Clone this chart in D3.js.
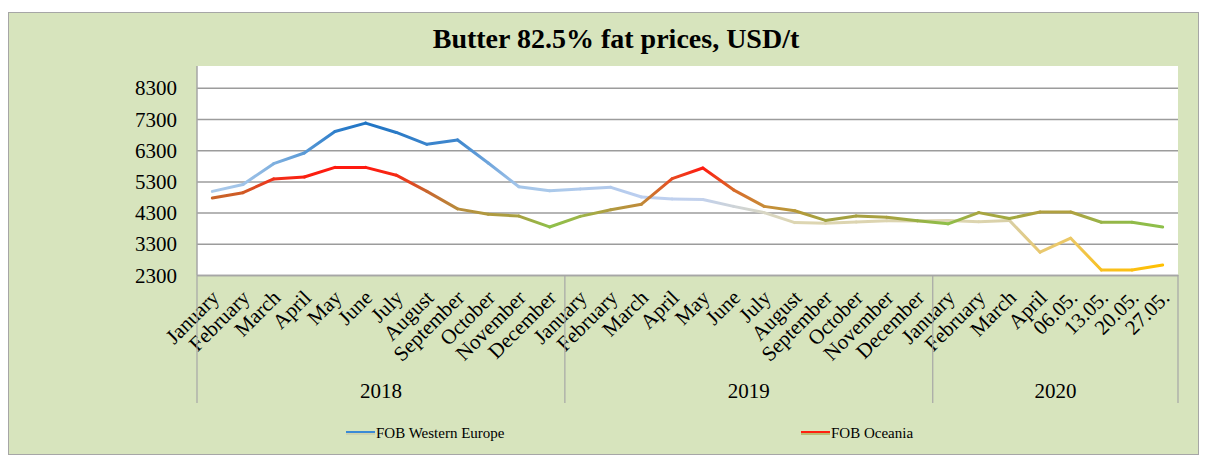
<!DOCTYPE html>
<html>
<head>
<meta charset="utf-8">
<script src="https://cdn.jsdelivr.net/npm/d3@7"></script>
<style>
  body { margin: 0; background: #fff; }
  svg text { font-family: "Liberation Serif", "Times New Roman", serif; fill: #000; }
</style>
</head>
<body>
<div id="chart"></div>
<script>
// chart values
var months = ["January", "February", "March", "April", "May", "June", "July", "August",
              "September", "October", "November", "December"];
var categories = months.concat(months, ["January", "February", "March", "April", "06.05.", "13.05.", "20.05.", "27.05."]);
var years = ["2018", "2019", "2020"];
var yearSizes = [12, 12, 8];
var yTicks = [2300, 3300, 4300, 5300, 6300, 7300, 8300];

var westernEurope = [4980, 5200, 5870, 6210, 6900, 7170, 6870, 6490, 6630, 5890, 5130, 5000,
                     5060, 5110, 4800, 4740, 4720, 4500, 4300, 3980, 3960, 4000, 4040, 4030,
                     4050, 4010, 4050, 3030, 3480, 2460, 2460, 2620];
var oceania = [4770, 4940, 5380, 5440, 5750, 5750, 5500, 4980, 4420, 4250, 4190, 3840,
               4180, 4390, 4570, 5390, 5730, 5030, 4500, 4360, 4050, 4190, 4150, 4040,
               3940, 4300, 4110, 4320, 4320, 3990, 3990, 3840];

// colour of the line at each point (the source chart shades the lines)
var weColors = ["#aac9ea", "#a0c3e8", "#7fb0df", "#5a9ad6", "#2f7fcb", "#1f74c4", "#2a7ac6", "#3a84cc",
                "#3d86cd", "#6fa5dc", "#a5c6ea", "#aac9ea",
                "#b0caec", "#b2caec", "#bccff0", "#bfd0ee", "#c2d1ec", "#cdd3d8", "#d8d6c4", "#ddd6b2",
                "#ddd5b0", "#dcd4b0", "#dcd4b0", "#dcd4b0",
                "#dcd4b0", "#dcd4ae", "#d8cfa6", "#e8c870", "#ebc866", "#f8c020", "#fbbf14", "#ffc000"];
var ocColors = ["#c8642a", "#d05a24", "#f0301a", "#fa2010", "#ff1a10", "#ff1a10", "#f52a14", "#c8662e",
                "#b88c3c", "#b09a40", "#a8a040", "#8ec04a",
                "#9cb548", "#b09a40", "#c08a38", "#e84a20", "#ff1a10", "#d86a28", "#c88c38", "#b89838",
                "#a0a240", "#a6a040", "#a8a040", "#98b044",
                "#8ec04a", "#a8a440", "#a0aa40", "#b0a040", "#b0a040", "#98b448", "#90ba48", "#8ec04a"];

var width = 1206, height = 455;
var plot = {left: 197, right: 1178, top: 66, bottom: 275};
var serif = "'Liberation Serif', 'Times New Roman', serif";

var svg = d3.select("#chart").append("svg")
  .attr("width", width)
  .attr("height", height);

// chart area
svg.append("rect")
  .attr("x", 8.5).attr("y", 12.5)
  .attr("width", 1190).attr("height", 442)
  .attr("fill", "#d7e4bd")
  .attr("stroke", "#a6a6a6");

svg.append("text")
  .attr("x", 616).attr("y", 48)
  .attr("text-anchor", "middle")
  .style("font-size", "28px")
  .style("font-weight", "bold")
  .text("Butter 82.5% fat prices, USD/t");

svg.append("rect")
  .attr("x", plot.left).attr("y", plot.top)
  .attr("width", plot.right - plot.left).attr("height", plot.bottom - plot.top)
  .attr("fill", "#fff");

var x = d3.scaleBand()
  .domain(d3.range(categories.length))
  .range([plot.left, plot.right])
  .padding(0);

var y = d3.scaleLinear()
  .domain([2300, 9000])
  .range([plot.bottom, plot.top]);

// y axis + gridlines
var yaxis = d3.axisLeft(y)
  .tickValues(yTicks)
  .tickSize(-(plot.right - plot.left))
  .tickPadding(20)
  .tickFormat(d3.format("d"));

var gy = svg.append("g")
  .attr("transform", "translate(" + plot.left + ",0)")
  .call(yaxis);
gy.select(".domain").remove();
gy.selectAll("line").attr("stroke", "#9c9c9c").attr("stroke-width", 1.5);
gy.selectAll("text").style("font-size", "21px").attr("dy", "0.34em");

svg.append("line")
  .attr("x1", plot.left).attr("x2", plot.left)
  .attr("y1", plot.top).attr("y2", plot.bottom)
  .attr("stroke", "#a6a6a6").attr("stroke-width", 1.5);

// x axis (months)
var xaxis = d3.axisBottom(x)
  .tickSize(0)
  .tickFormat(function (i) { return categories[i]; });

var gx = svg.append("g")
  .attr("transform", "translate(0," + plot.bottom + ")")
  .call(xaxis);
gx.select(".domain").attr("stroke", "#a6a6a6").attr("stroke-width", 1.5);
gx.selectAll("text")
  .style("font-size", "21px")
  .attr("text-anchor", "end")
  .attr("y", 0).attr("dy", 0)
  .attr("transform", "translate(8,24) rotate(-45)");

// year groups
var bounds = [0];
yearSizes.forEach(function (n, i) { bounds.push(bounds[i] + n); });

svg.selectAll(".yearline")
  .data(bounds)
  .enter().append("line")
  .attr("x1", function (b) { return b < categories.length ? x(b) : plot.right; })
  .attr("x2", function (b) { return b < categories.length ? x(b) : plot.right; })
  .attr("y1", plot.bottom).attr("y2", 403)
  .attr("stroke", "#a6a6a6").attr("stroke-width", 1.2);

svg.selectAll(".year")
  .data(years)
  .enter().append("text")
  .attr("x", function (d, i) {
    var a = x(bounds[i]);
    var b = bounds[i + 1] < categories.length ? x(bounds[i + 1]) : plot.right;
    return (a + b) / 2;
  })
  .attr("y", 398)
  .attr("text-anchor", "middle")
  .style("font-size", "21px")
  .text(function (d) { return d; });

// lines drawn segment by segment with gradients
var defs = svg.append("defs");
var cx = function (i) { return x(i) + x.bandwidth() / 2; };

function drawSeries(values, colors, key) {
  var g = svg.append("g");
  for (var i = 0; i < values.length - 1; i++) {
    var id = key + i;
    var grad = defs.append("linearGradient")
      .attr("id", id)
      .attr("gradientUnits", "userSpaceOnUse")
      .attr("x1", cx(i)).attr("y1", y(values[i]))
      .attr("x2", cx(i + 1)).attr("y2", y(values[i + 1]));
    grad.append("stop").attr("offset", "0%").attr("stop-color", colors[i]);
    grad.append("stop").attr("offset", "100%").attr("stop-color", colors[i + 1]);
    g.append("line")
      .attr("x1", cx(i)).attr("y1", y(values[i]))
      .attr("x2", cx(i + 1)).attr("y2", y(values[i + 1]))
      .attr("stroke", "url(#" + id + ")")
      .attr("stroke-width", 3)
      .attr("stroke-linecap", "round");
  }
}

drawSeries(westernEurope, weColors, "we");
drawSeries(oceania, ocColors, "oc");

// legend
var legend = [
  {name: "FOB Western Europe", x: 346, top: "#3a8ad6", bottom: "#c9c9a4"},
  {name: "FOB Oceania", x: 801, top: "#ff2010", bottom: "#a8a040"}
];
var lg = svg.selectAll(".legend")
  .data(legend)
  .enter().append("g");
lg.append("line")
  .attr("x1", function (d) { return d.x; }).attr("x2", function (d) { return d.x + 29; })
  .attr("y1", 432).attr("y2", 432)
  .attr("stroke", function (d) { return d.top; }).attr("stroke-width", 2);
lg.append("line")
  .attr("x1", function (d) { return d.x; }).attr("x2", function (d) { return d.x + 29; })
  .attr("y1", 434).attr("y2", 434)
  .attr("stroke", function (d) { return d.bottom; }).attr("stroke-width", 1.2);
lg.append("text")
  .attr("x", function (d) { return d.x + 30; })
  .attr("y", 438)
  .style("font-family", serif)
  .style("font-size", "15px")
  .text(function (d) { return d.name; });
</script>
</body>
</html>
